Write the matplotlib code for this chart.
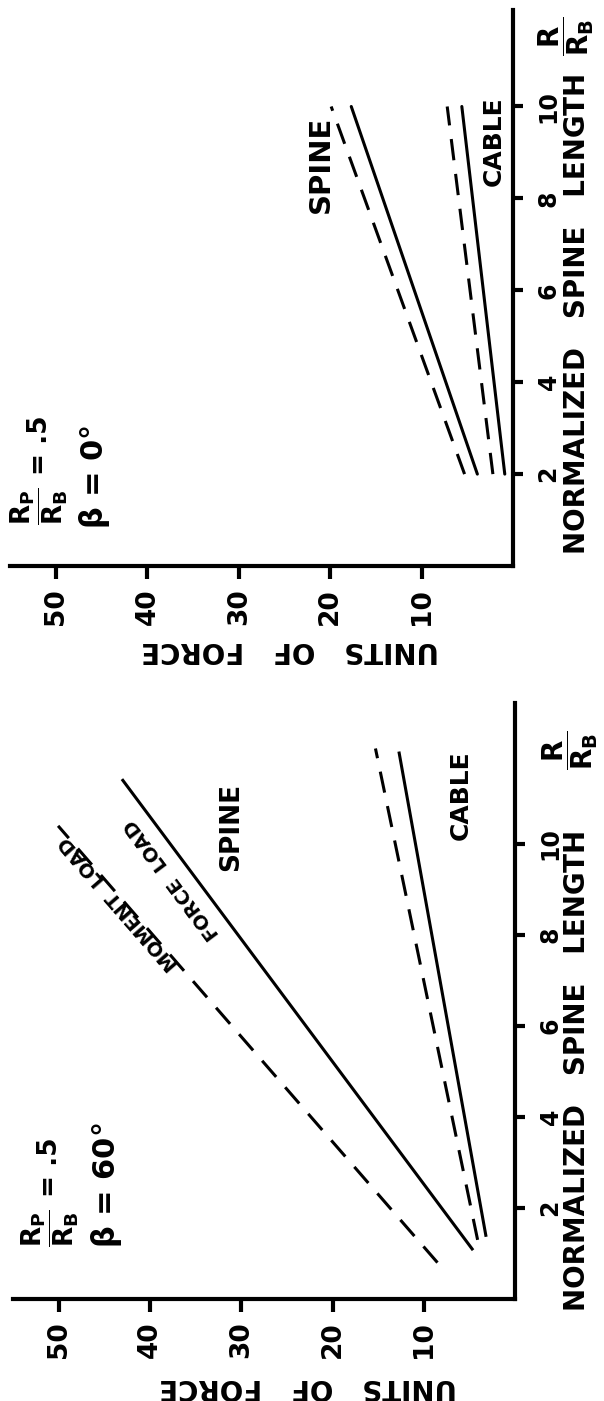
import numpy as np
import matplotlib
matplotlib.use("Agg")
import matplotlib.pyplot as plt

plt.rcParams['font.family'] = ['DejaVu Sans']
plt.rcParams['mathtext.fontset'] = 'dejavusans'

# ---------------- data ----------------
force_ticks = [10, 20, 30, 40, 50]
length_ticks = [2, 4, 6, 8, 10]

# beta = 0 deg panel (top)
b0_len = [2, 10]
b0_spine_solid = [3.9, 17.7]
b0_spine_dashed = [5.3, 19.9]
b0_cable_dashed = [2.2, 7.2]
b0_cable_solid = [0.9, 5.6]

# beta = 60 deg panel (bottom)
b60_force_load_len = [1.1, 11.4]
b60_force_load = [4.7, 43.0]
b60_moment_load_len = [0.8, 10.4]
b60_moment_load = [8.5, 50.1]
b60_cable_dashed_len = [1.3, 12.1]
b60_cable_dashed = [4.1, 15.3]
b60_cable_solid_len = [1.4, 12.0]
b60_cable_solid = [3.2, 12.7]

W, H = 604, 1401
fig = plt.figure(figsize=(W / 100, H / 100), dpi=100)
fig.patch.set_facecolor('white')

LW = 2.2
DASH = (0, (7, 4.5))


def px(x, y):
    return x / W, 1 - y / H


def make_axes(left_px, right_px, top_px, bottom_px, ymax):
    l, b = px(left_px, bottom_px)
    ax = fig.add_axes([l, b, (right_px - left_px) / W, (bottom_px - top_px) / H])
    ax.set_xlim(55, 0)
    ax.set_ylim(0, ymax)
    for s in ['top', 'left']:
        ax.spines[s].set_visible(False)
    for s in ['right', 'bottom']:
        ax.spines[s].set_linewidth(3)
    ax.xaxis.set_ticks_position('bottom')
    ax.yaxis.set_ticks_position('right')
    ax.set_xticks(force_ticks)
    ax.set_xticklabels([str(v) for v in force_ticks], rotation=90,
                       fontsize=19, fontweight='bold')
    ax.set_yticks(length_ticks)
    ax.set_yticklabels([str(v) for v in length_ticks], rotation=90,
                       fontsize=17, fontweight='bold', va='center')
    ax.tick_params(axis='x', length=9, width=3, pad=7)
    ax.tick_params(axis='y', length=7, width=3, pad=10)
    ax.set_facecolor('none')
    return ax


FRAC_P = r'$\dfrac{\mathbf{R_P}}{\mathbf{R_B}}$'

# ---------------- top panel: beta = 0 ----------------
ax1 = make_axes(10.4, 513, 10, 566, 12.1)
ax1.plot(b0_spine_solid, b0_len, color='black', lw=LW, solid_capstyle='round')
ax1.plot(b0_spine_dashed, b0_len, color='black', lw=LW, linestyle=DASH)
ax1.plot(b0_cable_dashed, b0_len, color='black', lw=LW, linestyle=DASH)
ax1.plot(b0_cable_solid, b0_len, color='black', lw=LW, solid_capstyle='round')
ax1.text(21.0, 8.74, 'SPINE', rotation=90, ha='center', va='center',
         fontsize=21, fontweight='bold')
ax1.text(2.1, 9.24, 'CABLE', rotation=90, ha='center', va='center',
         fontsize=18, fontweight='bold')
ax1.text(51.8, 1.30, FRAC_P, rotation=90,
         ha='center', va='center', fontsize=19, fontweight='bold')
ax1.text(51.8, 2.62, '= .5', rotation=90,
         ha='center', va='center', fontsize=19, fontweight='bold')
ax1.text(45.8, 1.95, r'$\mathbf{\beta}$' + ' = 0°', rotation=90,
         ha='center', va='center', fontsize=22, fontweight='bold')

# ---------------- bottom panel: beta = 60 ----------------
ax2 = make_axes(13.4, 515, 703, 1299, 13.1)
ax2.plot(b60_force_load, b60_force_load_len, color='black', lw=LW)
ax2.plot(b60_moment_load, b60_moment_load_len, color='black', lw=LW, linestyle=DASH)
ax2.plot(b60_cable_dashed, b60_cable_dashed_len, color='black', lw=LW, linestyle=DASH)
ax2.plot(b60_cable_solid, b60_cable_solid_len, color='black', lw=LW)
ax2.text(31.1, 10.37, 'SPINE', rotation=90, ha='center', va='center',
         fontsize=19, fontweight='bold')
ax2.text(6.0, 11.08, 'CABLE', rotation=90, ha='center', va='center',
         fontsize=18, fontweight='bold')
ax2.text(51.0, 1.55, FRAC_P, rotation=90,
         ha='center', va='center', fontsize=19, fontweight='bold')
ax2.text(51.0, 2.90, '= .5', rotation=90,
         ha='center', va='center', fontsize=19, fontweight='bold')
ax2.text(44.8, 2.5, r'$\mathbf{\beta}$' + ' = 60°', rotation=90,
         ha='center', va='center', fontsize=22, fontweight='bold')


def line_angle(ax, xs, ys):
    p0 = ax.transData.transform((xs[0], ys[0]))
    p1 = ax.transData.transform((xs[1], ys[1]))
    return np.degrees(np.arctan2(p1[1] - p0[1], p1[0] - p0[0]))


ang_f = line_angle(ax2, b60_force_load, b60_force_load_len)
ang_m = line_angle(ax2, b60_moment_load, b60_moment_load_len)
ax2.text(37.6, 9.22, 'FORCE  LOAD', rotation=ang_f, rotation_mode='anchor',
         ha='center', va='center', fontsize=14, fontweight='bold')
ax2.text(43.4, 8.70, 'MOMENT  LOAD', rotation=ang_m, rotation_mode='anchor',
         ha='center', va='center', fontsize=14, fontweight='bold')

# ---------------- axis titles (figure coords) ----------------
for (x, y) in [(577, 313), (577, 1070)]:
    fig.text(*px(x, y), 'NORMALIZED   SPINE   LENGTH', rotation=90, ha='center',
             va='center', fontsize=20, fontweight='bold')
for (x, y) in [(290, 650), (308, 1387)]:
    fig.text(*px(x, y), 'UNITS   OF   FORCE', rotation=180, ha='center',
             va='center', fontsize=20, fontweight='bold')
for (x, y) in [(566, 36), (570, 750)]:
    fig.text(*px(x, y), r'$\dfrac{\mathbf{R}}{\mathbf{R_B}}$', rotation=90,
             ha='center', va='center', fontsize=20, fontweight='bold')

fig.savefig('out.png', dpi=100, facecolor='white')
